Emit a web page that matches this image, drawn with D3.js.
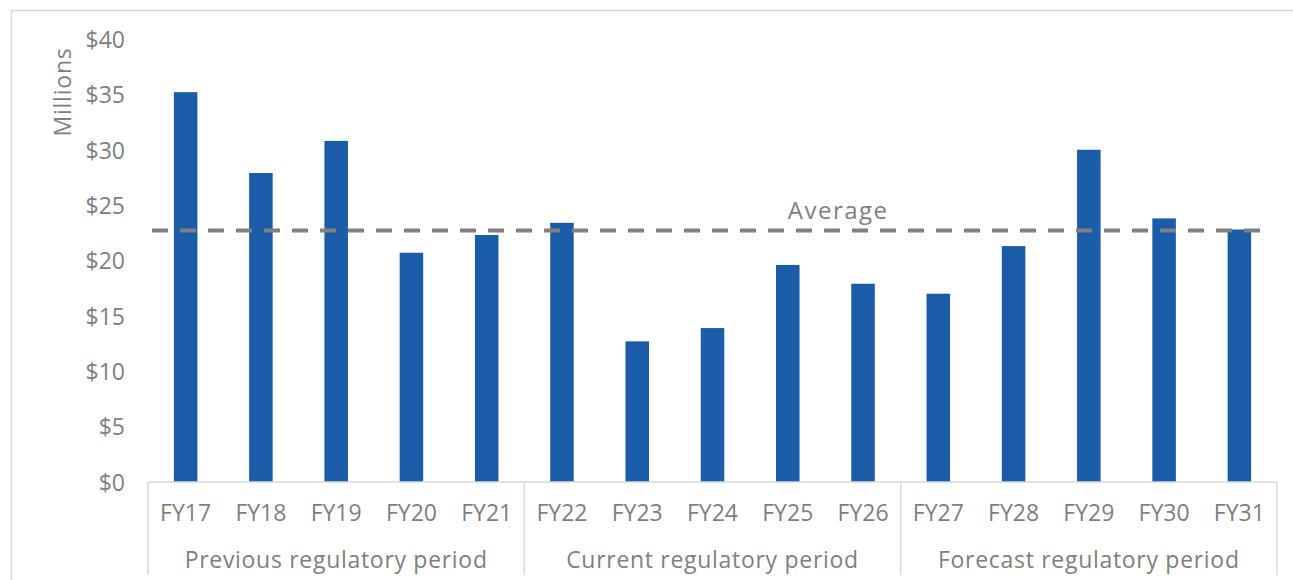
<!DOCTYPE html>
<html>
<head>
<meta charset="utf-8">
<script src="https://cdn.jsdelivr.net/npm/d3@7"></script>
<style>
  html, body { margin: 0; padding: 0; background: #ffffff; }
  svg { display: block; }
</style>
</head>
<body>
<svg id="chart" width="1293" height="580"></svg>
<script>
// Annual expenditure by financial year ($ millions)
const categories = ["FY17", "FY18", "FY19", "FY20", "FY21",
                    "FY22", "FY23", "FY24", "FY25", "FY26",
                    "FY27", "FY28", "FY29", "FY30", "FY31"];
const values = [35.2, 27.9, 30.8, 20.7, 22.3,
                23.4, 12.7, 13.9, 19.6, 17.9,
                17.0, 21.3, 30.0, 23.8, 22.8];
const averageValue = 22.7;
const averageLabel = "Average";

// Regulatory periods grouping the years
const periodNames = ["Previous regulatory period", "Current regulatory period", "Forecast regulatory period"];
const periodFirst = ["FY17", "FY22", "FY27"];
const periodLast = ["FY21", "FY26", "FY31"];

const yTicks = [0, 5, 10, 15, 20, 25, 30, 35, 40];
const yTitle = "Millions";

const svg = d3.select("#chart");
const W = 1293, H = 580;
const plot = { left: 148, right: 1277, top: 39, bottom: 482 };
const axisColor = "#d9d9d9";
const barColor = "#1a5ca8";
const textColor = "#7f7f7f";
const font = "'Open Sans', Lato, sans-serif";

// Outer chart-area frame
svg.append("rect")
  .attr("x", 11.5).attr("y", 10.5)
  .attr("width", W).attr("height", H)
  .attr("fill", "none")
  .attr("stroke", axisColor)
  .attr("stroke-width", 1.5);

const x = d3.scaleBand()
  .domain(categories)
  .range([plot.left, plot.right])
  .paddingInner(0.6875)
  .paddingOuter(0.34375);

const y = d3.scaleLinear()
  .domain([0, 40])
  .range([plot.bottom, plot.top]);

const step = x.step();
const outer = x.paddingOuter() * step;
const cellLeft = c => x(c) - outer;
const cellRight = c => x(c) - outer + step;

// Bars
svg.append("g").selectAll("rect")
  .data(categories)
  .join("rect")
  .attr("x", d => x(d))
  .attr("y", (d, i) => y(values[i]))
  .attr("width", x.bandwidth())
  .attr("height", (d, i) => y(0) - y(values[i]))
  .attr("fill", barColor);

// Y axis labels (no axis line)
const yAxis = d3.axisLeft(y)
  .tickValues(yTicks)
  .tickSize(0)
  .tickPadding(0)
  .tickFormat(d => "$" + d);
const gy = svg.append("g")
  .attr("transform", `translate(${plot.left - 23},0)`)
  .call(yAxis);
gy.select(".domain").remove();
gy.selectAll("text")
  .attr("font-family", font)
  .attr("font-size", 23)
  .attr("fill", textColor)
  .attr("dy", "0.36em");

// Y axis title
svg.append("text")
  .attr("transform", `translate(71, 92) rotate(-90)`)
  .attr("text-anchor", "middle")
  .attr("font-family", font)
  .attr("font-size", 23)
  .attr("letter-spacing", 0.8)
  .attr("fill", textColor)
  .text(yTitle);

// Category axis: baseline and period separators
const gx = svg.append("g");
gx.append("line")
  .attr("x1", plot.left).attr("x2", plot.right)
  .attr("y1", y(0)).attr("y2", y(0))
  .attr("stroke", axisColor).attr("stroke-width", 1.5);

const separators = [cellLeft(periodFirst[0])].concat(periodLast.map(cellRight));
gx.selectAll("line.sep")
  .data(separators)
  .join("line")
  .attr("class", "sep")
  .attr("x1", d => d).attr("x2", d => d)
  .attr("y1", y(0)).attr("y2", 575)
  .attr("stroke", axisColor).attr("stroke-width", 1.5);

// Year labels
gx.selectAll("text.year")
  .data(categories)
  .join("text")
  .attr("class", "year")
  .attr("x", d => x(d) + x.bandwidth() / 2)
  .attr("y", 521)
  .attr("text-anchor", "middle")
  .attr("font-family", font)
  .attr("font-size", 23)
  .attr("fill", textColor)
  .text(d => d);

// Period labels
gx.selectAll("text.period")
  .data(periodNames)
  .join("text")
  .attr("class", "period")
  .attr("x", (d, i) => (cellLeft(periodFirst[i]) + cellRight(periodLast[i])) / 2)
  .attr("y", 568)
  .attr("text-anchor", "middle")
  .attr("font-family", font)
  .attr("font-size", 23)
  .attr("letter-spacing", 0.7)
  .attr("fill", textColor)
  .text(d => d);

// Average line
svg.append("line")
  .attr("x1", plot.left + 4)
  .attr("x2", plot.right - 17)
  .attr("y1", y(averageValue))
  .attr("y2", y(averageValue))
  .attr("stroke", "#808080")
  .attr("stroke-width", 4)
  .attr("stroke-dasharray", "16 12");

svg.append("text")
  .attr("x", x("FY25") + x.bandwidth() / 2)
  .attr("y", y(averageValue) - 12)
  .attr("font-family", font)
  .attr("font-size", 24)
  .attr("letter-spacing", 1.5)
  .attr("fill", textColor)
  .text(averageLabel);
</script>
</body>
</html>
